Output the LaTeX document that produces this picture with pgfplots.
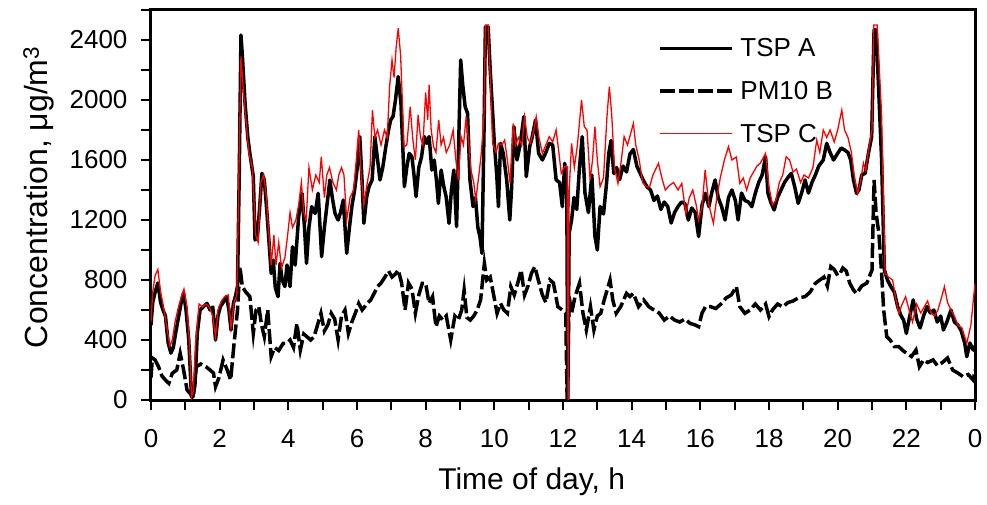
\documentclass[border=0pt]{standalone}
\usepackage{fontspec}
\setmainfont{Liberation Sans}
\usepackage{pgfplots}
\pgfplotsset{compat=1.18}

\definecolor{tspred}{RGB}{255,0,0}

\begin{document}
\begin{tikzpicture}
\begin{axis}[
  scale only axis, width=824pt, height=390pt,
  xmin=0, xmax=24, ymin=0, ymax=2600,
  xtick={0,2,...,24}, xticklabels={0,2,4,6,8,10,12,14,16,18,20,22,0},
  minor xtick={1,3,...,23},
  ytick={0,400,...,2400}, minor ytick={200,600,...,2600},
  xtick pos=bottom, ytick pos=left, tick align=outside,
  major tick length=10pt, minor tick length=10pt,
  every tick/.style={black, line width=2pt},
  axis line style={line width=3pt},
  /pgf/number format/assume math mode=true,
  /pgf/number format/1000 sep={},
  tick label style={font=\fontsize{26}{26}\selectfont},
  xticklabel shift=16pt,
  yticklabel shift=10pt,
  xlabel={Time of day, h},
  ylabel={Concentration, μg/m\textsuperscript{3}},
  xlabel style={font=\fontsize{30}{32}\selectfont, at={(rel axis cs:0.462,0)}, anchor=base, yshift=-89pt},
  ylabel style={font=\fontsize{32}{34}\selectfont, at={(rel axis cs:0,0.52)}, anchor=base, yshift=103pt},
  legend style={at={(rel axis cs:0.615,0.927)}, anchor=north west, draw=none, fill=none,
    font=\fontsize{26}{26}\selectfont, row sep=23pt, inner sep=0pt,
    nodes={inner sep=0pt}, column sep=7pt},
  legend cell align=left,
  legend image code/.code={\draw[#1] (0pt,0pt) -- (72pt,0pt);},
  after end axis/.code={\path (rel axis cs:0,0) ++(-151pt,-104pt) rectangle ++(987pt,504pt);},
]
\addplot[black, line width=3.5pt, line join=round] coordinates {
(0.00,500) (0.05,650) (0.12,720) (0.20,780) (0.28,650) (0.35,600) (0.42,560) (0.50,380) (0.58,313) (0.65,350)
(0.72,450) (0.80,550) (0.88,650) (0.95,713) (1.02,600) (1.10,400) (1.18,20) (1.22,20) (1.28,100) (1.35,450)
(1.43,600) (1.52,620) (1.63,644) (1.72,600) (1.80,620) (1.88,400) (1.95,560) (2.02,622) (2.10,650) (2.20,690)
(2.27,600) (2.33,467) (2.40,644) (2.47,700) (2.52,760) (2.57,1500) (2.62,2433) (2.66,2300) (2.74,1978) (2.82,1750)
(2.88,1644) (2.98,1489) (3.03,1067) (3.10,1089) (3.17,1300) (3.23,1511) (3.30,1467) (3.36,1300) (3.42,1111) (3.50,844)
(3.56,933) (3.62,750) (3.70,689) (3.76,911) (3.82,800) (3.90,756) (3.96,900) (4.05,756) (4.12,1022) (4.20,900)
(4.30,1222) (4.40,1378) (4.47,1150) (4.53,911) (4.60,1150) (4.68,1289) (4.78,1244) (4.87,1378) (4.97,956) (5.05,1150)
(5.12,1289) (5.21,1467) (5.28,1350) (5.36,1244) (5.45,1200) (5.52,1250) (5.60,1333) (5.70,978) (5.78,1150) (5.85,1289)
(5.93,1400) (6.00,1533) (6.08,1756) (6.15,1450) (6.20,1178) (6.28,1350) (6.35,1422) (6.44,1467) (6.52,1756) (6.60,1600)
(6.67,1467) (6.75,1550) (6.84,1689) (6.92,1800) (6.98,1867) (7.05,1889) (7.12,2000) (7.20,2156) (7.28,1978) (7.34,1650)
(7.38,1422) (7.45,1550) (7.52,1644) (7.60,1622) (7.66,1500) (7.72,1356) (7.80,1550) (7.88,1622) (7.96,1756) (8.03,1711)
(8.10,1756) (8.18,1533) (8.25,1600) (8.32,1450) (8.37,1311) (8.45,1533) (8.53,1422) (8.60,1350) (8.68,1178) (8.75,1400)
(8.82,1533) (8.90,1156) (8.96,1700) (9.02,2267) (9.08,2100) (9.15,1956) (9.22,1911) (9.29,1467) (9.38,1289) (9.45,1350)
(9.52,1150) (9.58,1089) (9.64,978) (9.70,1800) (9.74,2489) (9.82,2489) (9.88,2200) (9.93,2000) (10.00,1711) (10.07,1500)
(10.12,1289) (10.18,1711) (10.26,1644) (10.36,1467) (10.45,1200) (10.50,1400) (10.57,1822) (10.66,1600) (10.75,1700) (10.86,1889)
(10.93,1489) (11.03,1689) (11.10,1750) (11.20,1867) (11.29,1644) (11.40,1600) (11.50,1650) (11.60,1711) (11.70,1700) (11.80,1467)
(11.90,1450) (11.98,1289) (12.05,1578) (12.11,1400) (12.14,0) (12.18,1111) (12.25,1200) (12.32,1350) (12.40,1270) (12.48,1550)
(12.56,1756) (12.64,1380) (12.74,1250) (12.84,1500) (12.93,1090) (13.00,1000) (13.08,1290) (13.18,1240) (13.27,1450) (13.33,1640)
(13.40,1730) (13.48,1510) (13.56,1550) (13.65,1470) (13.75,1560) (13.85,1520) (13.95,1640) (14.05,1670) (14.15,1560) (14.25,1510)
(14.35,1460) (14.45,1420) (14.55,1400) (14.65,1330) (14.75,1360) (14.85,1270) (14.95,1320) (15.05,1290) (15.15,1180) (15.25,1250)
(15.35,1290) (15.45,1320) (15.55,1310) (15.65,1200) (15.75,1280) (15.85,1250) (15.95,1090) (16.05,1300) (16.15,1378) (16.25,1289)
(16.33,1380) (16.43,1467) (16.52,1350) (16.62,1289) (16.72,1200) (16.82,1350) (16.92,1400) (17.02,1330) (17.10,1200) (17.20,1380)
(17.30,1330) (17.40,1320) (17.50,1289) (17.60,1378) (17.70,1450) (17.80,1500) (17.90,1622) (17.97,1378) (18.05,1320) (18.15,1267)
(18.25,1350) (18.35,1400) (18.45,1450) (18.57,1489) (18.65,1511) (18.75,1420) (18.85,1311) (18.95,1380) (19.05,1467) (19.15,1380)
(19.25,1450) (19.35,1500) (19.45,1560) (19.58,1600) (19.68,1711) (19.78,1650) (19.88,1600) (20.00,1644) (20.10,1680) (20.20,1667)
(20.30,1650) (20.38,1600) (20.46,1467) (20.55,1378) (20.62,1400) (20.70,1500) (20.80,1511) (20.90,1650) (20.99,1756) (21.06,2467)
(21.12,2467) (21.17,2200) (21.28,1600) (21.36,867) (21.45,800) (21.55,756) (21.65,720) (21.75,620) (21.85,560) (21.92,533)
(22.00,444) (22.10,560) (22.20,667) (22.30,540) (22.40,480) (22.50,560) (22.60,622) (22.70,580) (22.80,600) (22.90,520)
(23.00,560) (23.08,467) (23.18,520) (23.30,600) (23.40,520) (23.50,500) (23.60,460) (23.70,380) (23.76,289) (23.85,380)
(23.95,333) (24.00,360)
};
\addlegendentry{TSP A}
\addplot[black, line width=3.5pt, dash pattern=on 15pt off 4pt] coordinates {
(0.00,150) (0.04,280) (0.12,267) (0.22,222) (0.32,160) (0.42,133) (0.52,111) (0.62,178) (0.75,200) (0.85,311)
(0.95,200) (1.05,67) (1.15,40) (1.23,22) (1.32,222) (1.45,240) (1.60,222) (1.72,200) (1.82,180) (1.88,89)
(1.98,150) (2.10,267) (2.22,200) (2.32,133) (2.42,378) (2.52,600) (2.59,889) (2.66,756) (2.76,720) (2.88,689)
(2.98,444) (3.06,600) (3.14,622) (3.22,500) (3.30,422) (3.40,600) (3.50,289) (3.60,350) (3.72,330) (3.85,378)
(3.95,378) (4.05,400) (4.15,350) (4.25,511) (4.35,333) (4.45,440) (4.55,420) (4.65,400) (4.75,422) (4.85,500)
(4.95,578) (5.05,460) (5.15,500) (5.25,578) (5.35,540) (5.45,400) (5.55,560) (5.65,600) (5.75,444) (5.85,520)
(5.95,578) (6.05,644) (6.15,600) (6.30,644) (6.40,667) (6.50,711) (6.60,756) (6.70,780) (6.82,822) (6.92,860)
(7.02,820) (7.12,840) (7.20,867) (7.30,780) (7.40,600) (7.50,780) (7.60,740) (7.70,578) (7.80,700) (7.90,778)
(8.00,778) (8.10,644) (8.20,689) (8.30,489) (8.40,560) (8.50,533) (8.60,560) (8.73,400) (8.85,560) (8.95,533)
(9.05,600) (9.12,733) (9.20,550) (9.30,533) (9.40,560) (9.50,600) (9.60,667) (9.71,911) (9.78,800) (9.88,820)
(9.98,700) (10.08,578) (10.18,644) (10.28,600) (10.38,578) (10.48,756) (10.58,700) (10.68,778) (10.78,867) (10.88,700)
(10.98,760) (11.08,844) (11.18,889) (11.28,800) (11.40,700) (11.50,650) (11.62,800) (11.72,780) (11.85,622) (11.98,600)
(12.08,578) (12.12,0) (12.18,689) (12.25,578) (12.35,689) (12.48,778) (12.58,580) (12.68,467) (12.80,622) (12.90,467)
(13.00,560) (13.10,578) (13.20,667) (13.37,800) (13.45,667) (13.55,578) (13.68,622) (13.85,711) (13.95,690) (14.05,711)
(14.20,622) (14.35,667) (14.50,622) (14.65,600) (14.80,580) (14.95,533) (15.10,560) (15.25,533) (15.40,520) (15.55,540)
(15.70,511) (15.85,500) (15.95,489) (16.05,580) (16.15,622) (16.30,622) (16.45,610) (16.60,640) (16.75,680) (16.90,700)
(17.05,756) (17.15,622) (17.30,578) (17.45,600) (17.60,640) (17.75,600) (17.90,640) (18.00,556) (18.10,600) (18.25,640)
(18.40,620) (18.55,650) (18.70,660) (18.85,680) (19.05,689) (19.20,720) (19.35,778) (19.48,800) (19.60,820) (19.70,760)
(19.80,889) (19.90,870) (20.00,830) (20.07,844) (20.15,880) (20.25,860) (20.35,780) (20.46,733) (20.55,710) (20.70,760)
(20.85,780) (21.00,867) (21.06,1467) (21.12,1244) (21.20,1111) (21.28,844) (21.34,600) (21.43,422) (21.53,400) (21.65,356)
(21.78,356) (21.90,330) (22.01,311) (22.15,290) (22.28,333) (22.38,222) (22.50,267) (22.62,250) (22.78,267) (22.90,230)
(23.05,250) (23.20,280) (23.35,200) (23.50,180) (23.65,156) (23.80,170) (23.95,133) (24.00,200)
};
\addlegendentry{PM10 B}
\addplot[tspred, line width=1.3pt] coordinates {
(0.00,520) (0.05,720) (0.12,830) (0.20,870) (0.28,720) (0.35,640) (0.45,500) (0.55,360) (0.62,400) (0.70,520)
(0.80,620) (0.90,700) (0.96,740) (1.05,620) (1.12,380) (1.18,20) (1.23,60) (1.30,380) (1.40,640) (1.50,620)
(1.60,640) (1.70,620) (1.80,560) (1.88,420) (1.95,600) (2.05,660) (2.15,690) (2.25,700) (2.33,480) (2.42,650)
(2.50,700) (2.56,1500) (2.62,2290) (2.68,2100) (2.75,1900) (2.85,1650) (2.95,1550) (3.05,1100) (3.12,1050) (3.20,1450)
(3.28,1500) (3.35,1380) (3.42,1150) (3.50,900) (3.58,1100) (3.64,900) (3.72,1050) (3.80,880) (3.90,950) (3.98,1100)
(4.05,1250) (4.12,1150) (4.22,1200) (4.30,1300) (4.38,1450) (4.45,1250) (4.52,1200) (4.60,1550) (4.70,1400) (4.80,1500)
(4.90,1450) (4.96,1622) (5.05,1350) (5.12,1500) (5.20,1550) (5.30,1450) (5.40,1400) (5.47,1500) (5.55,1550) (5.62,1500)
(5.70,1200) (5.80,1350) (5.90,1400) (5.98,1600) (6.05,1800) (6.12,1500) (6.20,1300) (6.30,1450) (6.38,1550) (6.45,1933)
(6.52,1750) (6.60,1800) (6.70,1700) (6.80,1800) (6.88,1750) (6.95,2089) (7.02,2267) (7.08,2150) (7.14,2350) (7.20,2478)
(7.27,2300) (7.32,2000) (7.37,1689) (7.45,1700) (7.55,1956) (7.62,1750) (7.70,1600) (7.78,1900) (7.85,1750) (7.92,1700)
(8.00,2050) (8.06,1867) (8.10,2100) (8.16,1800) (8.23,1689) (8.30,1650) (8.38,1867) (8.45,1700) (8.52,1750) (8.60,1650)
(8.70,1700) (8.80,1800) (8.88,1600) (8.95,1467) (9.03,1756) (9.10,1700) (9.18,1889) (9.26,1700) (9.32,1533) (9.40,1450)
(9.46,1333) (9.55,1500) (9.62,1644) (9.70,1900) (9.74,2500) (9.82,2500) (9.88,2150) (9.95,1711) (10.05,1650) (10.12,1711)
(10.22,1700) (10.30,1733) (10.38,1600) (10.46,1444) (10.55,1844) (10.62,1700) (10.70,1750) (10.80,1700) (10.88,1889) (10.96,1750)
(11.05,1711) (11.15,1800) (11.22,1889) (11.30,1750) (11.40,1644) (11.50,1700) (11.60,1756) (11.70,1720) (11.80,1800) (11.88,1650)
(11.95,1511) (12.05,1556) (12.12,1556) (12.15,0) (12.18,1400) (12.25,1711) (12.33,1550) (12.42,1700) (12.54,2000) (12.62,1822)
(12.70,1800) (12.79,1467) (12.86,1600) (12.93,1822) (13.00,1600) (13.08,1422) (13.18,1480) (13.28,1889) (13.35,2089) (13.42,1900)
(13.50,1550) (13.60,1444) (13.70,1600) (13.78,1756) (13.88,1700) (14.05,1844) (14.12,1700) (14.22,1600) (14.32,1450) (14.42,1422)
(14.52,1420) (14.62,1500) (14.78,1578) (14.88,1480) (14.98,1400) (15.10,1430) (15.22,1450) (15.35,1400) (15.46,1444) (15.58,1244)
(15.68,1350) (15.78,1400) (15.88,1300) (15.95,1200) (16.05,1289) (16.14,1533) (16.25,1300) (16.38,1178) (16.48,1350) (16.58,1480)
(16.70,1600) (16.82,1689) (16.92,1600) (17.05,1620) (17.15,1444) (17.25,1480) (17.35,1400) (17.45,1480) (17.55,1520) (17.65,1560)
(17.75,1580) (17.90,1644) (18.00,1420) (18.10,1300) (18.20,1330) (18.30,1450) (18.40,1500) (18.50,1622) (18.60,1600) (18.70,1520)
(18.80,1540) (18.92,1450) (19.02,1500) (19.15,1480) (19.28,1550) (19.39,1733) (19.48,1650) (19.58,1800) (19.68,1750) (19.78,1800)
(19.90,1720) (20.00,1800) (20.12,1933) (20.20,1800) (20.30,1750) (20.40,1650) (20.48,1500) (20.58,1378) (20.66,1450) (20.75,1580)
(20.82,1530) (20.92,1700) (21.00,1800) (21.05,2500) (21.15,2500) (21.28,1900) (21.38,844) (21.48,820) (21.60,800) (21.70,667)
(21.78,578) (21.88,640) (21.98,689) (22.08,600) (22.18,520) (22.30,640) (22.42,580) (22.52,620) (22.62,660) (22.72,580)
(22.82,560) (22.92,600) (23.02,680) (23.11,756) (23.20,650) (23.30,600) (23.40,560) (23.50,500) (23.62,480) (23.76,378)
(23.88,500) (24.00,778)
};
\addlegendentry{TSP C}
\end{axis}
\end{tikzpicture}
\end{document}
